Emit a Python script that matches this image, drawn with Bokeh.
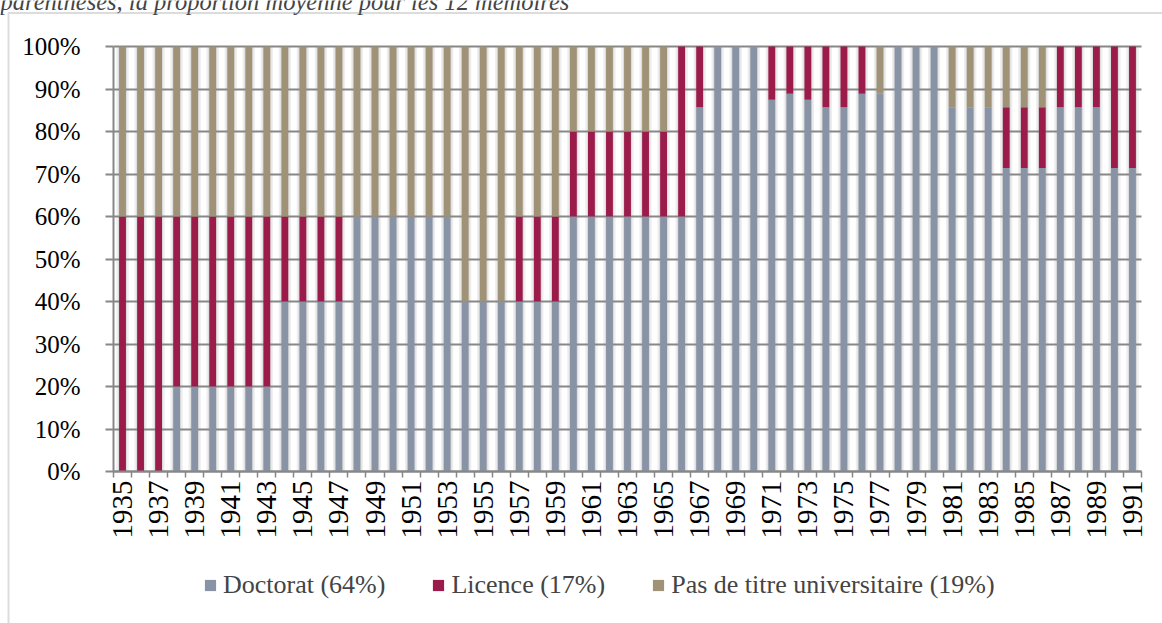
import math
from bokeh.plotting import figure
from bokeh.models import (ColumnDataSource, Range1d, FixedTicker, NumeralTickFormatter,
                          Legend, LegendItem, Label, BoxAnnotation)
from bokeh.embed import file_html
from bokeh.resources import INLINE

years = list(range(1935, 1992))

doctorat = [0.0, 0.0, 0.0,
            0.2, 0.2, 0.2, 0.2, 0.2, 0.2,
            0.4, 0.4, 0.4, 0.4,
            0.6, 0.6, 0.6, 0.6, 0.6, 0.6,
            0.4, 0.4, 0.4,
            0.4, 0.4, 0.4,
            0.6, 0.6, 0.6, 0.6, 0.6, 0.6,
            0.6, 0.857,
            1.0, 1.0, 1.0,
            0.875, 0.889, 0.875, 0.857, 0.857, 0.889, 0.889,
            1.0, 1.0, 1.0,
            0.857, 0.857, 0.857,
            0.714, 0.714, 0.714,
            0.857, 0.857, 0.857,
            0.714, 0.714]

licence = [0.6, 0.6, 0.6,
           0.4, 0.4, 0.4, 0.4, 0.4, 0.4,
           0.2, 0.2, 0.2, 0.2,
           0.0, 0.0, 0.0, 0.0, 0.0, 0.0,
           0.0, 0.0, 0.0,
           0.2, 0.2, 0.2,
           0.2, 0.2, 0.2, 0.2, 0.2, 0.2,
           0.4, 0.143,
           0.0, 0.0, 0.0,
           0.125, 0.111, 0.125, 0.143, 0.143, 0.111, 0.0,
           0.0, 0.0, 0.0,
           0.0, 0.0, 0.0,
           0.143, 0.143, 0.143,
           0.143, 0.143, 0.143,
           0.286, 0.286]

pas_de_titre = [0.4, 0.4, 0.4,
                0.4, 0.4, 0.4, 0.4, 0.4, 0.4,
                0.4, 0.4, 0.4, 0.4,
                0.4, 0.4, 0.4, 0.4, 0.4, 0.4,
                0.6, 0.6, 0.6,
                0.4, 0.4, 0.4,
                0.2, 0.2, 0.2, 0.2, 0.2, 0.2,
                0.0, 0.0,
                0.0, 0.0, 0.0,
                0.0, 0.0, 0.0, 0.0, 0.0, 0.0, 0.111,
                0.0, 0.0, 0.0,
                0.143, 0.143, 0.143,
                0.143, 0.143, 0.143,
                0.0, 0.0, 0.0,
                0.0, 0.0]

series_labels = ["Doctorat (64%)", "Licence (17%)", "Pas de titre universitaire (19%)"]
colors = ["#8893a5", "#9b1c4b", "#a09276"]
y_ticks = [i / 10 for i in range(11)]
label_years = years[::2]

caption = "parenthèses, la proportion moyenne pour les 12 mémoires"

FONT = "Liberation Serif"
GRID = "#878787"

W, H = 1162, 623
# plot area in canvas pixels
PL, PR, PT, PB = 113, 1141, 46, 471

x_lo, x_hi = years[0] - 0.5, years[-1] + 0.5
xs = (PR - PL) / (x_hi - x_lo)
ys = (PB - PT) / 1.0
x_range = Range1d(x_lo - PL / xs, x_hi + (W - PR) / xs)
y_range = Range1d(0 - (H - PB) / ys, 1 + PT / ys)

src = ColumnDataSource(dict(year=years, doc=doctorat, lic=licence, pas=pas_de_titre,
                            one=[1.0] * len(years)))

p = figure(width=W, height=H, output_backend="svg", toolbar_location=None,
           x_range=x_range, y_range=y_range,
           min_border_left=0, min_border_right=0, min_border_top=0, min_border_bottom=0)
p.outline_line_color = None
p.background_fill_color = "white"
p.border_fill_color = "white"

# soft shading in the gaps between bars (below the grid)
bw = 0.38
p.vbar(x="year", top="one", bottom=0, width=bw + 0.30, source=src,
       fill_color="#eeeeee", line_color=None, level="image")
p.vbar(x="year", top="one", bottom=0, width=bw + 0.12, source=src,
       fill_color="#dcdcdc", line_color=None, level="image")

rs = p.vbar_stack(["doc", "lic", "pas"], x="year", width=bw, color=colors,
                  line_color=None, source=src)

# y axis (fixed at the left edge of the bars)
p.yaxis.fixed_location = x_lo
p.yaxis.bounds = (0, 1)
p.yaxis.ticker = FixedTicker(ticks=y_ticks)
p.yaxis.formatter = NumeralTickFormatter(format="0%")
p.yaxis.major_tick_out = 8
p.yaxis.major_tick_in = 0
p.yaxis.minor_tick_out = 0
p.yaxis.minor_tick_in = 0
p.yaxis.major_label_standoff = 25
p.yaxis.major_label_text_font = FONT
p.yaxis.major_label_text_font_size = "25px"
p.yaxis.major_label_text_color = "black"
p.yaxis.axis_line_color = GRID
p.yaxis.axis_line_width = 2
p.yaxis.major_tick_line_color = GRID
p.yaxis.major_tick_line_width = 2

# x axis (fixed at 0%)
minor = [y - 0.5 for y in years] + [years[-1] + 0.5]
p.xaxis.fixed_location = 0
p.xaxis.bounds = (x_lo, x_hi)
p.xaxis.ticker = FixedTicker(ticks=label_years, minor_ticks=minor)
p.xaxis.major_label_orientation = math.pi / 2
p.xaxis.major_tick_out = 0
p.xaxis.major_tick_in = 0
p.xaxis.minor_tick_out = 6
p.xaxis.minor_tick_in = 0
p.xaxis.minor_tick_line_color = GRID
p.xaxis.minor_tick_line_width = 1.5
p.xaxis.major_label_standoff = 3
p.xaxis.major_label_text_font = FONT
p.xaxis.major_label_text_font_size = "29px"
p.xaxis.major_label_text_color = "black"
p.xaxis.axis_line_color = GRID
p.xaxis.axis_line_width = 2

p.xgrid.visible = False
yg = p.ygrid[0]
yg.ticker = FixedTicker(ticks=y_ticks)
yg.grid_line_color = GRID
yg.grid_line_width = 2
if "cross_bounds" in yg.properties():
    yg.cross_bounds = (x_lo, x_hi)
else:
    yg.visible = False
    p.segment(x0=[x_lo] * len(y_ticks), x1=[x_hi] * len(y_ticks), y0=y_ticks, y1=y_ticks,
              line_color=GRID, line_width=2, level="underlay")

legend = Legend(items=[LegendItem(label=series_labels[i], renderers=[rs[i]]) for i in range(3)],
                orientation="horizontal", location=(203, 23))
legend.label_text_font = FONT
legend.label_text_font_size = "26px"
legend.label_height = 26
legend.glyph_width = 14
legend.glyph_height = 14
legend.label_standoff = 6
legend.spacing = 46
legend.padding = 0
legend.margin = 0
legend.border_line_alpha = 0
legend.background_fill_alpha = 0
p.add_layout(legend)

cap = Label(x=0, y=H - 1, x_units="screen", y_units="screen", text=caption,
            text_font=FONT, text_font_style="italic", text_font_size="24.5px",
            text_baseline="alphabetic")
p.add_layout(cap)

frame_box = BoxAnnotation(left=8, right=W + 40, top=H - 12.5, bottom=-40,
                          left_units="screen", right_units="screen",
                          top_units="screen", bottom_units="screen",
                          fill_alpha=0, line_color="#8c8c8c", line_width=2)
p.add_layout(frame_box)

open("out.html", "w").write(file_html(p, INLINE))
